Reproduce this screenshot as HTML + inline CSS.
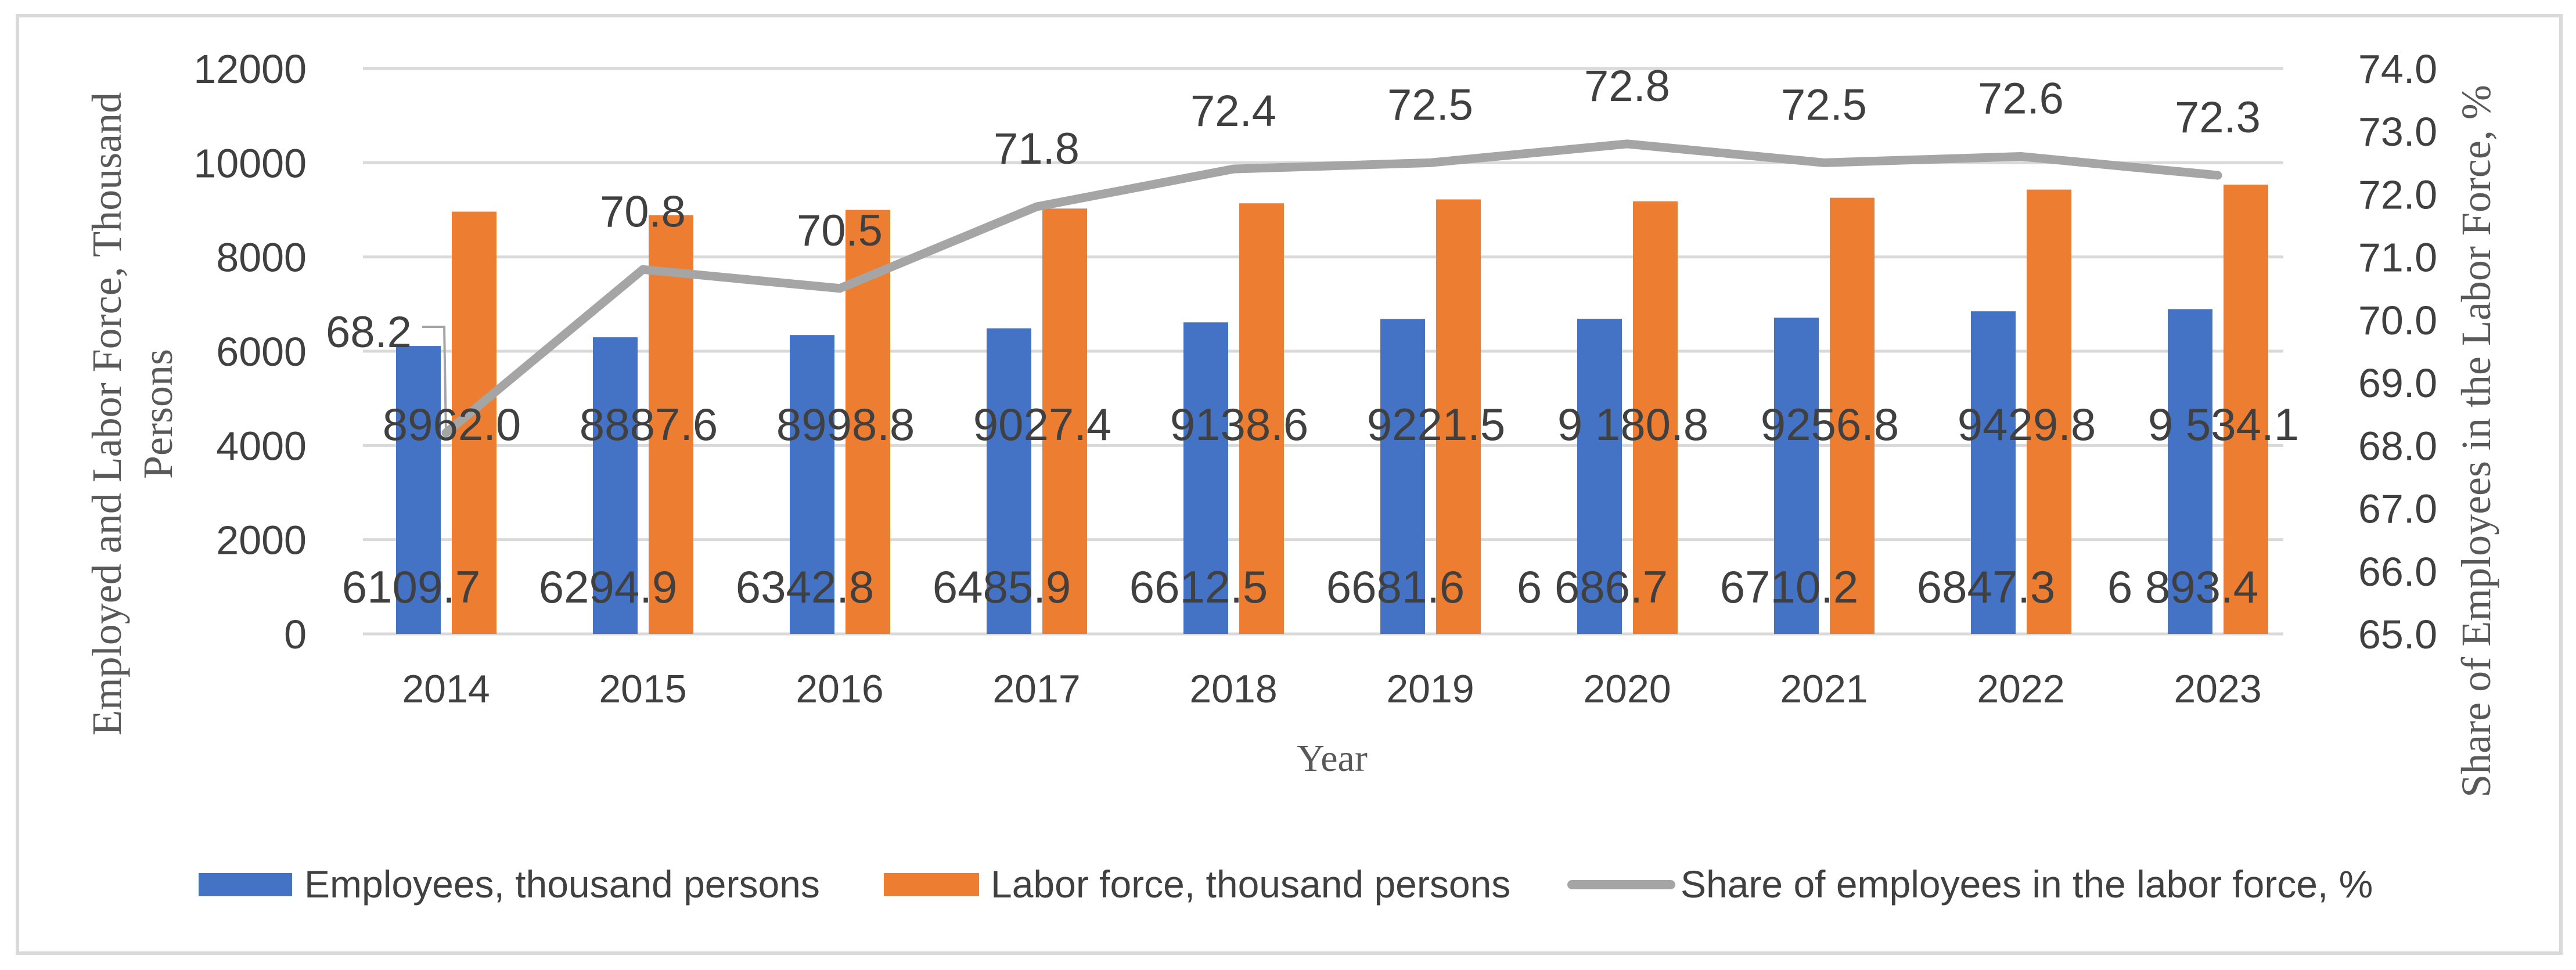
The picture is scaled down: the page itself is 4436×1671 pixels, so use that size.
<!DOCTYPE html>
<html><head><meta charset="utf-8"><style>
html,body{margin:0;padding:0;background:#fff;}
svg{display:block;}
text{font-family:"Liberation Sans",sans-serif;fill:#404040;}
.serif{font-family:"Liberation Serif",serif;fill:#595959;}
</style></head><body>
<svg id="chart" width="4436" height="1671" viewBox="0 0 4436 1671" xmlns="http://www.w3.org/2000/svg">
<rect x="30" y="27" width="4380" height="1615" fill="#fff" stroke="#d9d9d9" stroke-width="6"/>
<g id="grid"></g><g id="bars"></g><g id="line"></g><g id="labels"></g><g id="axes"></g>
<text class="serif" font-size="72" text-anchor="middle" transform="translate(208,713) rotate(-90)">Employed and Labor Force, Thousand</text>
<text class="serif" font-size="72" text-anchor="middle" transform="translate(296,713) rotate(-90)">Persons</text>
<text class="serif" font-size="72" text-anchor="middle" transform="translate(4288,760) rotate(-90)">Share of Employees in the Labor Force, %</text>
<text class="serif" font-size="66" text-anchor="middle" x="2294" y="1328">Year</text>
<g>
<rect x="342" y="1504" width="161" height="40" fill="#4472c4"/>
<text x="524" y="1546" font-size="66">Employees, thousand persons</text>
<rect x="1522" y="1504" width="164" height="40" fill="#ed7d31"/>
<text x="1706" y="1546" font-size="66">Labor force, thousand persons</text>
<line x1="2707" y1="1524" x2="2877" y2="1524" stroke="#a5a5a5" stroke-width="16" stroke-linecap="round"/>
<text x="2894" y="1546" font-size="66">Share of employees in the labor force, %</text>
</g>
</svg>
<script>
const years = ["2014","2015","2016","2017","2018","2019","2020","2021","2022","2023"];
const employees = [6109.7,6294.9,6342.8,6485.9,6612.5,6681.6,6686.7,6710.2,6847.3,6893.4];
const laborForce = [8962.0,8887.6,8998.8,9027.4,9138.6,9221.5,9180.8,9256.8,9429.8,9534.1];
const share = [68.2,70.8,70.5,71.8,72.4,72.5,72.8,72.5,72.6,72.3];
const employeeLabels = ["6109.7","6294.9","6342.8","6485.9","6612.5","6681.6","6 686.7","6710.2","6847.3","6 893.4"];
const laborLabels = ["8962.0","8887.6","8998.8","9027.4","9138.6","9221.5","9 180.8","9256.8","9429.8","9 534.1"];
const leftTicks = [0,2000,4000,6000,8000,10000,12000];
const rightTicks = [65,66,67,68,69,70,71,72,73,74];

const NS="http://www.w3.org/2000/svg";
const X0=625,X1=3932,YT=118,YB=1092;
const C0=768,step=339;
const xc=i=>C0+step*i;
const yL=v=>YB-(v-0)/12000*(YB-YT);
const yR=v=>YB-(v-65)/9*(YB-YT);
function mk(tag,attrs,parent,txt){const e=document.createElementNS(NS,tag);for(const k in attrs)e.setAttribute(k,attrs[k]);if(txt!==undefined)e.textContent=txt;document.getElementById(parent).appendChild(e);return e;}

leftTicks.forEach(t=>{
  const g=mk('line',{x1:X0,x2:X1,y1:yL(t),y2:yL(t),stroke:'#d9d9d9','stroke-width':5},'grid');
  
  
  const l=mk('text',{x:528,y:yL(t)+25,'font-size':70,'text-anchor':'end'},'axes',String(t));
  
  
});
rightTicks.forEach(t=>{
  const l=mk('text',{x:4061,y:yR(t)+25,'font-size':70},'axes',t.toFixed(1));
  
  
});
const bw=77;
years.forEach((yr,i)=>{
  const c=xc(i);
  const b=mk('rect',{x:c-bw-9,y:yL(employees[i]),width:bw,height:YB-yL(employees[i]),fill:'#4472c4'},'bars');
  
  
  const o=mk('rect',{x:c+10,y:yL(laborForce[i]),width:bw,height:YB-yL(laborForce[i]),fill:'#ed7d31'},'bars');
  
  
  const xl=mk('text',{x:c,y:1210,'font-size':68,'text-anchor':'middle'},'axes',yr);
  
  
  const el=mk('text',{x:c-60,y:1038,'font-size':78,'text-anchor':'middle'},'labels',employeeLabels[i]);
  
  
  const ll=mk('text',{x:c+10,y:758,'font-size':78,'text-anchor':'middle'},'labels',laborLabels[i]);
  
  
  const sx = i===0 ? 635 : c;
  const sy = i===0 ? 598 : yR(share[i])-74;
  const sl=mk('text',{x:sx,y:sy,'font-size':76,'text-anchor':'middle'},'labels',share[i].toFixed(1));
  
  
});
const pts=share.map((v,i)=>xc(i)+','+yR(v)).join(' ');
const pl=mk('polyline',{points:pts,fill:'none',stroke:'#a5a5a5','stroke-width':15,'stroke-linejoin':'round','stroke-linecap':'round'},'line');


const ld=mk('polyline',{points:'727,563 765,563 '+xc(0)+','+yR(share[0]),fill:'none',stroke:'#a5a5a5','stroke-width':4},'line');


</script>
</body></html>
